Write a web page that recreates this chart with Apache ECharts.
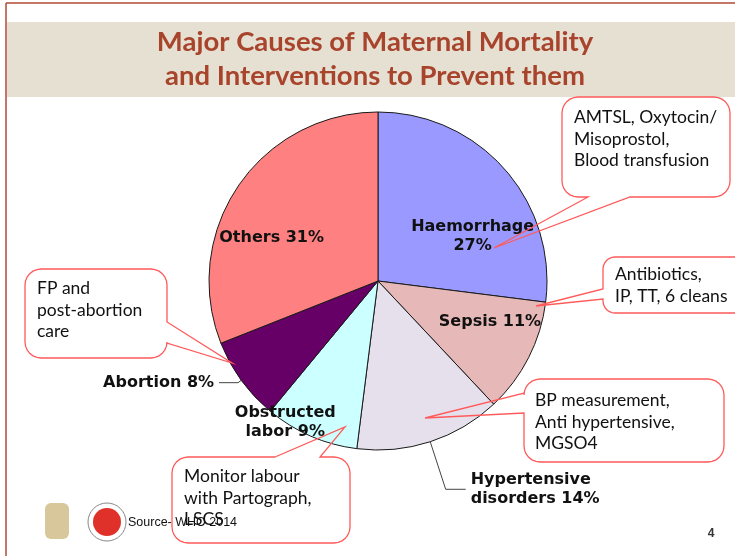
<!DOCTYPE html>
<html>
<head>
<meta charset="utf-8">
<script src="https://cdn.jsdelivr.net/npm/echarts@6/dist/echarts.min.js"></script>
<style>
  html, body { margin: 0; padding: 0; background: #fff; }
  #chart { width: 735px; height: 556px; }
</style>
</head>
<body>
<div id="chart"></div>
<script>
var chartDom = document.getElementById('chart');
var myChart = echarts.init(chartDom);
var option;

// data
var causes = ['Haemorrhage', 'Sepsis', 'Hypertensive disorders', 'Obstructed labor', 'Abortion', 'Others'];
var shares = [27, 11, 14, 9, 8, 31];
var labelNames = ['Haemorrhage\n', 'Sepsis ', 'Hypertensive\ndisorders ', 'Obstructed\nlabor ', 'Abortion ', 'Others '];
var sliceColors = ['#9999ff', '#e6b9b8', '#e6e0ec', '#ccffff', '#660066', '#ff8080'];
var interventions = [
  'AMTSL, Oxytocin/\nMisoprostol,\nBlood transfusion',
  'Antibiotics,\nIP, TT, 6 cleans',
  'FP and\npost-abortion\ncare',
  'BP measurement,\nAnti hypertensive,\nMGSO4',
  'Monitor labour\nwith Partograph,\nLSCS'
];

// quarter-circle corner points
function corner(pts, cx, cy, r, a0) {
  for (var k = 0; k <= 6; k++) {
    var a = (a0 + k * 15) * Math.PI / 180;
    pts.push([cx + r * Math.cos(a), cy + r * Math.sin(a)]);
  }
}

// rounded box with a pointer tail, as a closed outline
function callout(x, y, w, h, r, edge, a, b, tx, ty) {
  var pts = [];
  if (edge == 'top') pts.push([a, y], [tx, ty], [b, y]);
  corner(pts, x + w - r, y + r, r, -90);
  if (edge == 'right') pts.push([x + w, a], [tx, ty], [x + w, b]);
  corner(pts, x + w - r, y + h - r, r, 0);
  if (edge == 'bottom') pts.push([b, y + h], [tx, ty], [a, y + h]);
  corner(pts, x + r, y + h - r, r, 90);
  if (edge == 'left') pts.push([x, b], [tx, ty], [x, a]);
  corner(pts, x + r, y + r, r, 180);
  return {
    type: 'polygon', z: 10, silent: true,
    shape: { points: pts },
    style: { fill: 'none', stroke: '#ff5a5a', lineWidth: 1.3 }
  };
}

function note(x, y, txt) {
  return {
    type: 'text', z: 11, silent: true, x: x, y: y,
    style: {
      text: txt, fill: '#111', font: '17.5px Lato', lineHeight: 21.5
    }
  };
}

// inside label nudges
var nudge = { 0: [29, 13], 1: [34, 1], 3: [-58, 61], 5: [-34, 6] };

var pieData = causes.map(function (c, i) {
  var item = { name: c, value: shares[i], itemStyle: { color: sliceColors[i] } };
  if (i == 2) {
    item.label = { position: 'outside', align: 'left' };
    item.labelLine = { show: true, length: 50, length2: 20 };
  } else if (i == 4) {
    item.label = { position: 'outside' };
    item.labelLine = { show: true, length: 4, length2: 19 };
  } else {
    item.label = { position: 'inside' };
    item.labelLine = { show: false };
  }
  return item;
});

option = {
  animation: false,
  backgroundColor: '#fff',
  series: [
    {
      type: 'pie',
      center: [378, 281],
      radius: 169,
      startAngle: 90,
      clockwise: true,
      avoidLabelOverlap: false,
      silent: true,
      data: pieData,
      itemStyle: { borderColor: '#1a1a1a', borderWidth: 1 },
      label: {
        show: true,
        color: '#111',
        fontFamily: 'DejaVu Sans',
        fontWeight: 'bold',
        fontSize: 16,
        lineHeight: 19,
        formatter: function (p) { return labelNames[p.dataIndex] + p.value + '%'; }
      },
      labelLine: { lineStyle: { color: '#444', width: 1 }, smooth: false },
      labelLayout: function (p) {
        var d = nudge[p.dataIndex];
        if (d) return { dx: d[0], dy: d[1] };
        return {};
      }
    }
  ],
  graphic: [
    // slide frame and title band
    { type: 'line', silent: true, shape: { x1: 6, y1: 3, x2: 735, y2: 3 }, style: { stroke: '#b04a34', lineWidth: 1.5 } },
    { type: 'line', silent: true, shape: { x1: 6, y1: 3, x2: 6, y2: 556 }, style: { stroke: '#b04a34', lineWidth: 1.5 } },
    { type: 'rect', silent: true, shape: { x: 7, y: 22, width: 728, height: 75 }, style: { fill: '#e5e0d1' } },
    {
      type: 'text', silent: true, x: 375, y: 59,
      style: {
        text: 'Major Causes of Maternal Mortality\nand Interventions to Prevent them',
        fill: '#a8432c', font: 'bold 27.5px Lato', lineHeight: 34,
        align: 'center', verticalAlign: 'middle'
      }
    },
    // callouts
    callout(562, 97, 168, 100, 16, 'bottom', 588, 630, 494, 248),
    note(574, 107, interventions[0]),
    callout(603, 257, 150, 56, 12, 'left', 289, 299, 536, 306),
    note(615, 264, interventions[1]),
    callout(25, 269, 142, 89, 16, 'right', 322, 343, 232, 363),
    note(37, 278, interventions[2]),
    callout(524, 379, 200, 83, 16, 'left', 393, 413, 425, 418),
    note(535, 390, interventions[3]),
    callout(172, 457, 178, 86, 16, 'top', 275, 320, 345, 427),
    note(184, 466, interventions[4]),
    // footer
    { type: 'rect', silent: true, shape: { x: 45, y: 503, width: 24, height: 36, r: 6 }, style: { fill: '#d9c79c' } },
    { type: 'circle', silent: true, shape: { cx: 107, cy: 522, r: 19 }, style: { fill: '#fff', stroke: '#888', lineWidth: 1 } },
    { type: 'circle', silent: true, shape: { cx: 107, cy: 522, r: 14 }, style: { fill: '#e0302a' } },
    {
      type: 'text', silent: true, x: 128, y: 523,
      style: { text: 'Source- WHO 2014', fill: '#111', font: '12.5px "Liberation Sans"', verticalAlign: 'middle' }
    },
    {
      type: 'text', silent: true, x: 711, y: 534,
      style: { text: '4', fill: '#333', font: 'bold 12px "Liberation Sans"', align: 'center', verticalAlign: 'middle' }
    }
  ]
};

option && myChart.setOption(option);
</script>
</body>
</html>
